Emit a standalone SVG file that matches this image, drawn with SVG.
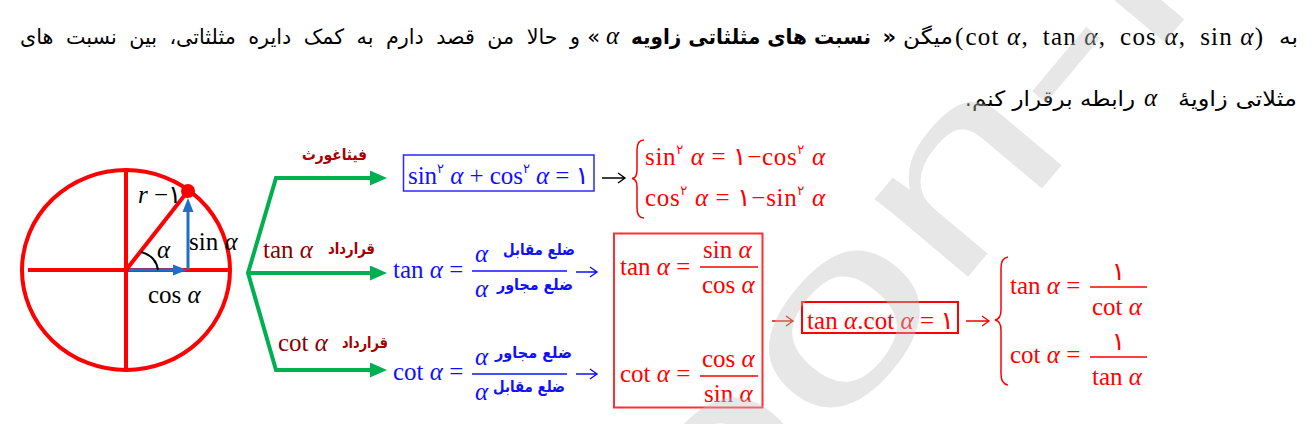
<svg xmlns="http://www.w3.org/2000/svg" width="1315" height="424" viewBox="0 0 1315 424">
<defs>
<style>
.fa{font-family:"DejaVu Sans","Liberation Sans",sans-serif;font-size:21px;fill:#000}
.fb{font-weight:bold}
.m{font-family:"Liberation Serif","DejaVu Sans",serif;font-size:25px}
.it{font-style:italic}
.sup{font-size:13px}
.red{fill:#ff0000}
.blue{fill:#1010ff}
.maroon{fill:#8b0000}
.lab{font-family:"DejaVu Sans","Liberation Sans",sans-serif;font-weight:bold;font-size:16px;fill:#a50000}
.blab{font-family:"DejaVu Sans","Liberation Sans",sans-serif;font-weight:bold;font-size:16px;fill:#1010ff}
.green{fill:none;stroke:#00b050;stroke-width:4}
.rl{stroke:#ff0000;stroke-width:4;fill:none}
.bar{stroke-width:1.3}
.arr{fill:none;stroke-width:1.4}
.wm{font-family:"Liberation Sans",Arial,sans-serif;font-size:230px;fill:#c4c4c4;fill-opacity:.4}
</style>
<marker id="ga" markerUnits="userSpaceOnUse" markerWidth="17" markerHeight="15" refX="1" refY="7.5" orient="auto">
<path d="M0,0 L17,7.5 L0,15 Z" fill="#00b050"/>
</marker>
</defs>
<rect width="1315" height="424" fill="#fff"/>

<g id="intro">
<text class="fa" x="1298" y="44" text-anchor="end" textLength="19" lengthAdjust="spacingAndGlyphs">به</text>
<text class="m" x="955" y="45" font-size="27" textLength="308" lengthAdjust="spacing">(<tspan dx="1">cot </tspan><tspan class="it">α</tspan>,<tspan dx="14">tan </tspan><tspan class="it">α</tspan>,<tspan dx="14">cos </tspan><tspan class="it">α</tspan>,<tspan dx="14">sin </tspan><tspan class="it">α</tspan>)</text>
<text class="fa" x="953" y="44" text-anchor="end" textLength="50" lengthAdjust="spacingAndGlyphs">میگن</text>
<text class="fa fb" x="896" y="44" text-anchor="end">»</text>
<text class="fa fb" x="871" y="44" text-anchor="end" textLength="240" lengthAdjust="spacingAndGlyphs">نسبت های مثلثاتی زاویه</text>
<text class="m it" x="606" y="44" font-size="25">α</text>
<text class="fa" x="600" y="44" text-anchor="end">«</text>
<text class="fa" x="580" y="44" text-anchor="end" word-spacing="6" textLength="560" lengthAdjust="spacingAndGlyphs">و حالا من قصد دارم به کمک دایره مثلثاتی، بین نسبت های</text>
<text class="fa" x="1297" y="106" text-anchor="end" textLength="119" lengthAdjust="spacingAndGlyphs">مثلاتی زاویهٔ</text>
<text class="m it" x="1144" y="106" font-size="25">α</text>
<text class="fa" x="1135" y="106" text-anchor="end" textLength="163" lengthAdjust="spacingAndGlyphs">رابطه برقرار کنم</text>
<text class="fa" x="965" y="106">.</text>
</g>

<g id="circle">
<ellipse cx="126" cy="270" rx="104" ry="100" class="rl"/>
<line x1="28" y1="270" x2="228" y2="270" class="rl"/>
<line x1="126" y1="170" x2="126" y2="370" class="rl"/>
<line x1="126" y1="270" x2="188" y2="191" class="rl"/>
<circle cx="188" cy="191" r="7" fill="#ff0000"/>
<line x1="129" y1="270" x2="175" y2="270" stroke="#1f6fc8" stroke-width="3"/>
<polygon points="173,264.5 187,270 173,275.5" fill="#1f6fc8"/>
<line x1="188" y1="270" x2="188" y2="210" stroke="#1f6fc8" stroke-width="3"/>
<polygon points="182.5,212 188,198 193.5,212" fill="#1f6fc8"/>
<path d="M141,252 Q156,256 158,270" fill="none" stroke="#000" stroke-width="2"/>
<text class="m" x="138" y="203" font-size="14"><tspan class="it">r</tspan> −۱</text>
<text class="m it" x="157" y="258" font-size="16">α</text>
<text class="m" x="189" y="250" font-size="15">sin <tspan class="it">α</tspan></text>
<text class="m" x="148" y="303" font-size="15">cos <tspan class="it">α</tspan></text>
</g>

<g id="connectors">
<path class="green" d="M371,178 L276,178 L248,273 L276,370 L371,370"/>
<line class="green" x1="248" y1="273" x2="371" y2="273" marker-end="url(#ga)"/>
<line class="green" x1="300" y1="178" x2="371" y2="178" marker-end="url(#ga)"/>
<line class="green" x1="300" y1="370" x2="371" y2="370" marker-end="url(#ga)"/>
<g class="arr" stroke="#000"><path d="M602,178 H625 M618,173 L625,178 L618,183"/></g>
<g class="arr" stroke="#1010ff"><path d="M576,272 H597 M590,267 L597,272 L590,277"/><path d="M576,374 H597 M590,369 L597,374 L590,379"/></g>
<g class="arr" stroke="#ff0000"><path d="M772,321 H793 M786,316 L793,321 L786,326"/><path d="M966,321 H989 M982,316 L989,321 L982,326"/></g>
</g>

<g id="labels">
<text class="lab" x="367" y="160" text-anchor="end" textLength="65" lengthAdjust="spacingAndGlyphs">فیثاغورث</text>
<text class="m maroon" x="263" y="258" font-size="25">tan <tspan class="it">α</tspan></text>
<text class="lab" x="375" y="254" text-anchor="end" textLength="47" lengthAdjust="spacingAndGlyphs">قرارداد</text>
<text class="m maroon" x="278" y="351" font-size="25">cot <tspan class="it">α</tspan></text>
<text class="lab" x="388" y="348" text-anchor="end" textLength="46" lengthAdjust="spacingAndGlyphs">قرارداد</text>
</g>

<g id="pythag">
<rect x="403.5" y="155" width="190.5" height="36" fill="none" stroke="#2a2aff" stroke-width="1.5"/>
<text class="m blue" x="408" y="184" font-size="24" textLength="181" lengthAdjust="spacing">sin<tspan class="sup" dy="-11">۲</tspan><tspan dy="11"> </tspan><tspan class="it">α</tspan> + cos<tspan class="sup" dy="-11">۲</tspan><tspan dy="11"> </tspan><tspan class="it">α</tspan> = ۱</text>
</g>

<g id="pythag-result">
<path d="M644,140 Q637,140 637,150 L637,170 Q637,178 632,178.5 Q637,179 637,187 L637,208 Q637,218 644,218" fill="none" stroke="#ff0000" stroke-width="1.5"/>
<text class="m red" x="645" y="165" font-size="25" textLength="180" lengthAdjust="spacing">sin<tspan class="sup" dy="-11">۲</tspan><tspan dy="11"> </tspan><tspan class="it">α</tspan> = ۱−cos<tspan class="sup" dy="-11">۲</tspan><tspan dy="11"> </tspan><tspan class="it">α</tspan></text>
<text class="m red" x="645" y="206" font-size="25" textLength="180" lengthAdjust="spacing">cos<tspan class="sup" dy="-11">۲</tspan><tspan dy="11"> </tspan><tspan class="it">α</tspan> = ۱−sin<tspan class="sup" dy="-11">۲</tspan><tspan dy="11"> </tspan><tspan class="it">α</tspan></text>
</g>

<g id="tan-def">
<text class="m blue" x="393" y="278">tan <tspan class="it">α</tspan> =</text>
<line x1="472" y1="271" x2="567" y2="271" stroke="#1010ff" class="bar"/>
<text class="m blue it" x="475" y="262">α</text>
<text class="blab" x="575" y="255" text-anchor="end" textLength="72" lengthAdjust="spacingAndGlyphs">ضلع مقابل</text>
<text class="m blue it" x="475" y="297">α</text>
<text class="blab" x="573" y="290" text-anchor="end" textLength="76" lengthAdjust="spacingAndGlyphs">ضلع مجاور</text>
</g>

<g id="cot-def">
<text class="m blue" x="393" y="380">cot <tspan class="it">α</tspan> =</text>
<line x1="472" y1="374" x2="567" y2="374" stroke="#1010ff" class="bar"/>
<text class="m blue it" x="475" y="365">α</text>
<text class="blab" x="572" y="358" text-anchor="end" textLength="77" lengthAdjust="spacingAndGlyphs">ضلع مجاور</text>
<text class="m blue it" x="475" y="400">α</text>
<text class="blab" x="565" y="392" text-anchor="end" textLength="72" lengthAdjust="spacingAndGlyphs">ضلع مقابل</text>
</g>

<g id="ratio-box">
<rect x="614" y="233.5" width="148.5" height="174" fill="none" stroke="#ff3030" stroke-width="2"/>
<text class="m red" x="620" y="275">tan <tspan class="it">α</tspan> =</text>
<line x1="700" y1="267" x2="758" y2="267" stroke="#ff0000" class="bar"/>
<text class="m red" x="703" y="258">sin <tspan class="it">α</tspan></text>
<text class="m red" x="702" y="293">cos <tspan class="it">α</tspan></text>
<text class="m red" x="620" y="382">cot <tspan class="it">α</tspan> =</text>
<line x1="700" y1="376" x2="758" y2="376" stroke="#ff0000" class="bar"/>
<text class="m red" x="702" y="367">cos <tspan class="it">α</tspan></text>
<text class="m red" x="704" y="402">sin <tspan class="it">α</tspan></text>
</g>

<g id="product">
<rect x="802" y="302" width="156" height="31" fill="none" stroke="#ff0000" stroke-width="2"/>
<text class="m red" x="807" y="329" textLength="147" lengthAdjust="spacing">tan <tspan class="it">α</tspan>.cot <tspan class="it">α</tspan> = ۱</text>
</g>

<g id="reciprocal">
<path d="M1008,257 Q1001,258 1001,268 L1001,310 Q1001,319 995,320 Q1001,321 1001,330 L1001,374 Q1001,384 1008,385" fill="none" stroke="#ff0000" stroke-width="1.5"/>
<text class="m red" x="1010" y="294">tan <tspan class="it">α</tspan> =</text>
<line x1="1090" y1="287" x2="1147" y2="287" stroke="#ff0000" class="bar"/>
<text class="m red" x="1118.5" y="280" text-anchor="middle">۱</text>
<text class="m red" x="1092" y="315">cot <tspan class="it">α</tspan></text>
<text class="m red" x="1010" y="363">cot <tspan class="it">α</tspan> =</text>
<line x1="1090" y1="357" x2="1147" y2="357" stroke="#ff0000" class="bar"/>
<text class="m red" x="1118.5" y="350" text-anchor="middle">۱</text>
<text class="m red" x="1092" y="385">tan <tspan class="it">α</tspan></text>
</g>

<text class="wm" transform="translate(706,589) rotate(-50) scale(1.5,1)">oon-ir</text>
</svg>
